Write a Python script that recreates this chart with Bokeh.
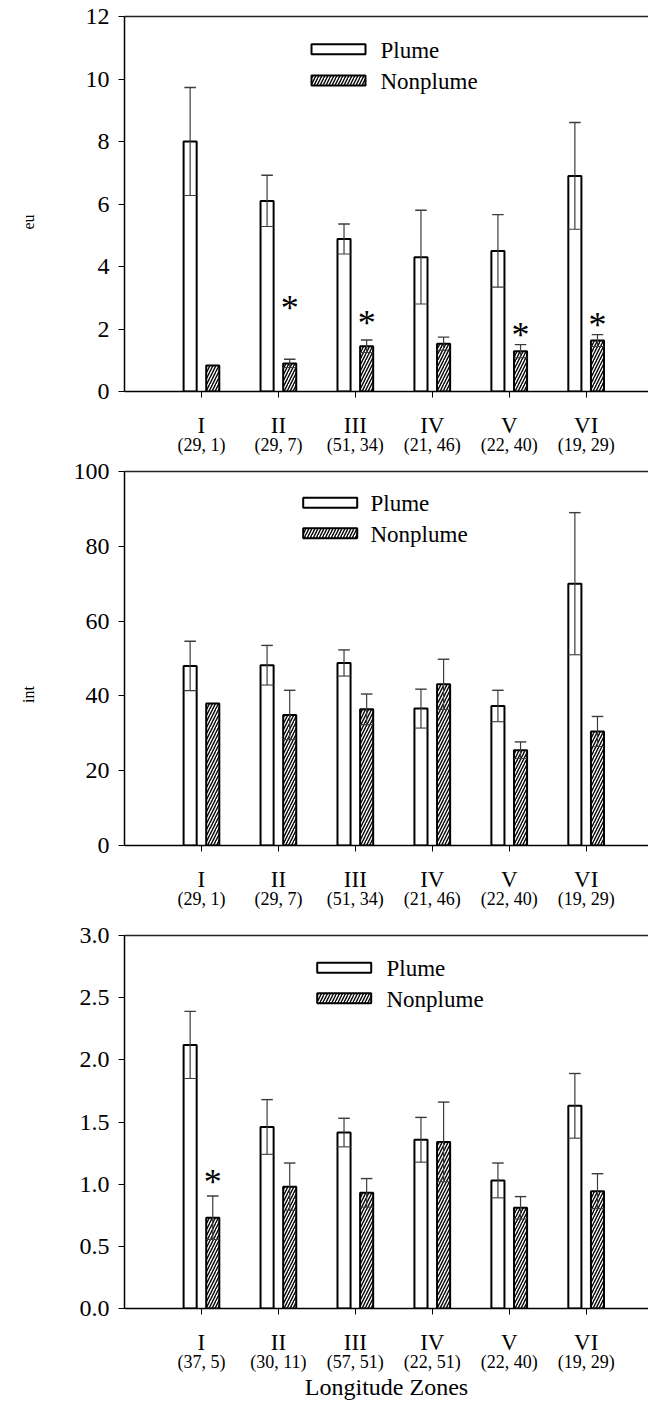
import numpy as np
from bokeh.plotting import figure
from bokeh.models import (Range1d, LinearAxis, FixedTicker, NumeralTickFormatter,
                          ColumnDataSource)
from bokeh.layouts import column
from bokeh.core.properties import value
from bokeh.embed import file_html
from bokeh.resources import INLINE

# ---------------- data ----------------
zones = ["I", "II", "III", "IV", "V", "VI"]
series_names = ["Plume", "Nonplume"]

counts_1 = ["(29, 1)", "(29, 7)", "(51, 34)", "(21, 46)", "(22, 40)", "(19, 29)"]
plume_1 = [8.0, 6.1, 4.88, 4.3, 4.5, 6.9]
plume_err_1 = [1.73, 0.82, 0.48, 1.5, 1.16, 1.71]
nonplume_1 = [0.83, 0.9, 1.45, 1.53, 1.29, 1.63]
nonplume_err_1 = [None, 0.13, 0.2, 0.21, 0.21, 0.19]
stars_1 = [None, 2.89, 2.41, None, 2.03, 2.35]
ysub_1 = "eu"

counts_2 = ["(29, 1)", "(29, 7)", "(51, 34)", "(21, 46)", "(22, 40)", "(19, 29)"]
plume_2 = [48.0, 48.2, 48.8, 36.6, 37.3, 70.0]
plume_err_2 = [6.6, 5.3, 3.5, 5.2, 4.2, 19.0]
nonplume_2 = [38.0, 34.9, 36.4, 43.1, 25.5, 30.5]
nonplume_err_2 = [None, 6.6, 4.1, 6.7, 2.2, 4.0]
stars_2 = [None, None, None, None, None, None]
ysub_2 = "int"

counts_3 = ["(37, 5)", "(30, 11)", "(57, 51)", "(22, 51)", "(22, 40)", "(19, 29)"]
plume_3 = [2.12, 1.46, 1.415, 1.357, 1.03, 1.63]
plume_err_3 = [0.27, 0.22, 0.115, 0.18, 0.14, 0.26]
nonplume_3 = [0.73, 0.98, 0.93, 1.34, 0.81, 0.944]
nonplume_err_3 = [0.175, 0.19, 0.115, 0.32, 0.09, 0.14]
stars_3 = [1.07, None, None, None, None, None]

yticks_1 = [0, 2, 4, 6, 8, 10, 12]
yticks_2 = [0, 20, 40, 60, 80, 100]
yticks_3 = [0.0, 0.5, 1.0, 1.5, 2.0, 2.5, 3.0]

x_title = "Longitude Zones"

# ---------------- style ----------------
FONT = "Liberation Serif"
ERR_COLOR = "#3c3c3c"
W = 648
LEFT = 124
X_END = 6.81
FRAME_W = W - LEFT
NBSP = "\u00a0"


def arr(v):
    return np.array([np.nan if a is None else a for a in v], dtype=float)


def panel(plume, perr, non, nerr, stars, counts, yticks, fmt, height, top_border,
          frame_h, legend_px, xlabel=None, ysub=None, ysub_style=(0, 0)):
    n = len(zones)
    pos = np.arange(1, n + 1)
    off = 0.147
    bw = 0.17
    y0, y1 = yticks[0], yticks[-1]
    p = figure(width=W, height=height, x_range=Range1d(0, X_END),
               y_range=Range1d(y0, y1),
               output_backend="svg", toolbar_location=None,
               x_axis_type=None, y_axis_type=None,
               min_border_left=LEFT, min_border_right=0,
               min_border_top=top_border, min_border_bottom=20)
    p.outline_line_color = None
    p.background_fill_color = "white"
    p.border_fill_color = "white"

    # axes
    ya = LinearAxis(ticker=FixedTicker(ticks=yticks))
    if fmt:
        ya.formatter = NumeralTickFormatter(format=fmt)
    ya.axis_line_width = 1.5
    ya.axis_line_color = "black"
    ya.major_tick_out = 6
    ya.major_tick_in = 0
    ya.major_tick_line_color = "black"
    ya.minor_tick_line_color = None
    ya.major_label_text_font = FONT
    ya.major_label_text_font_size = "24px"
    ya.major_label_text_color = "black"
    ya.major_label_standoff = 9
    if ysub:
        # only the subscript of the (cropped) y-axis title is visible
        standoff, pad = ysub_style
        ya.axis_label = ysub + NBSP * pad
        ya.axis_label_text_font = FONT
        ya.axis_label_text_font_style = "normal"
        ya.axis_label_text_font_size = "16px"
        ya.axis_label_text_color = "black"
        ya.axis_label_standoff = standoff
    p.add_layout(ya, "left")

    top = LinearAxis(ticker=FixedTicker(ticks=[]))
    top.axis_line_width = 1.5
    top.axis_line_color = "#222222"
    top.major_tick_out = 0
    top.major_tick_in = 0
    top.minor_tick_line_color = None
    top.major_label_text_font_size = "0px"
    top.major_label_standoff = 0
    p.add_layout(top, "above")

    xa = LinearAxis(ticker=FixedTicker(ticks=list(pos)))
    xa.major_label_overrides = {int(k): z for k, z in zip(pos, zones)}
    xa.axis_line_width = 1.5
    xa.axis_line_color = "black"
    xa.major_tick_out = 6
    xa.major_tick_in = 0
    xa.major_tick_line_color = "black"
    xa.minor_tick_line_color = None
    xa.major_label_text_font = FONT
    xa.major_label_text_font_size = "23px"
    xa.major_label_text_color = "black"
    xa.major_label_standoff = 15
    p.add_layout(xa, "below")

    xb = LinearAxis(ticker=FixedTicker(ticks=list(pos)))
    xb.major_label_overrides = {int(k): c for k, c in zip(pos, counts)}
    xb.axis_line_color = None
    xb.major_tick_line_color = None
    xb.major_tick_out = 0
    xb.major_tick_in = 0
    xb.minor_tick_line_color = None
    xb.major_label_text_font = FONT
    xb.major_label_text_font_size = "18px"
    xb.major_label_text_color = "black"
    xb.major_label_standoff = -6
    if xlabel:
        xb.axis_label = xlabel
        xb.axis_label_text_font = FONT
        xb.axis_label_text_font_style = "normal"
        xb.axis_label_text_font_size = "24px"
        xb.axis_label_text_color = "black"
        xb.axis_label_standoff = -1
    p.add_layout(xb, "below")

    pv, pe, nv, ne = arr(plume), arr(perr), arr(non), arr(nerr)

    plume_style = dict(fill_color="white", line_color="black", line_width=2)
    non_style = dict(fill_color="white", line_color="black", line_width=2,
                     hatch_pattern="/", hatch_color="black", hatch_scale=6,
                     hatch_weight=1.4)

    p.vbar(x=pos - off, top=pv, bottom=0, width=bw, **plume_style)
    p.vbar(x=pos + off, top=nv, bottom=0, width=bw, **non_style)

    for xs, v, e in ((pos - off, pv, pe), (pos + off, nv, ne)):
        src = ColumnDataSource(dict(x=xs, lo=v - e, hi=v + e,
                                    xl=xs - 0.075, xr=xs + 0.075,
                                    bl=xs - 0.086, br=xs + 0.086))
        p.segment(x0="x", y0="lo", x1="x", y1="hi", source=src,
                  line_color=ERR_COLOR, line_width=1.2)
        p.segment(x0="xl", y0="hi", x1="xr", y1="hi", source=src,
                  line_color=ERR_COLOR, line_width=1.4)
        p.segment(x0="bl", y0="lo", x1="br", y1="lo", source=src,
                  line_color=ERR_COLOR, line_width=1.1)

    sv = arr(stars)
    mask = ~np.isnan(sv)
    if mask.any():
        p.text(x=(pos + off)[mask], y=sv[mask], text=["*"] * int(mask.sum()),
               text_align="center", text_baseline="middle",
               text_font=value(FONT), text_font_size="36px", text_color="black",
               y_offset=7)

    # legend (placed by frame-pixel layout offsets)
    box_cx, row1, row2, text_x = legend_px
    ux = FRAME_W / X_END
    uy = frame_h / (y1 - y0)
    bx = box_cx / ux
    tx = text_x / ux
    ly = [y1 - row1 / uy, y1 - row2 / uy]
    p.rect(x=[bx], y=[ly[0]], width=54, height=10, width_units="screen",
           height_units="screen", **plume_style)
    p.rect(x=[bx], y=[ly[1]], width=54, height=10, width_units="screen",
           height_units="screen", **non_style)
    p.text(x=[tx, tx], y=ly, text=series_names, text_align="left",
           text_baseline="middle", text_font=value(FONT),
           text_font_size="23px", text_color="black", y_offset=1)
    return p


f1 = panel(plume_1, plume_err_1, nonplume_1, nonplume_err_1, stars_1, counts_1,
           yticks_1, None, 457, 16, 378, (214, 33, 64.5, 256),
           ysub=ysub_1, ysub_style=(46, 9))
f2 = panel(plume_2, plume_err_2, nonplume_2, nonplume_err_2, stars_2, counts_2,
           yticks_2, None, 454, 14, 376, (205.7, 31.5, 62, 246),
           ysub=ysub_2, ysub_style=(34, 18))
f3 = panel(plume_3, plume_err_3, nonplume_3, nonplume_err_3, stars_3, counts_3,
           yticks_3, "0.0", 491, 24, 376, (219.7, 32.5, 63.3, 262), xlabel=x_title)

layout = column(f1, f2, f3, spacing=0)
open("out.html", "w").write(file_html(layout, INLINE))
